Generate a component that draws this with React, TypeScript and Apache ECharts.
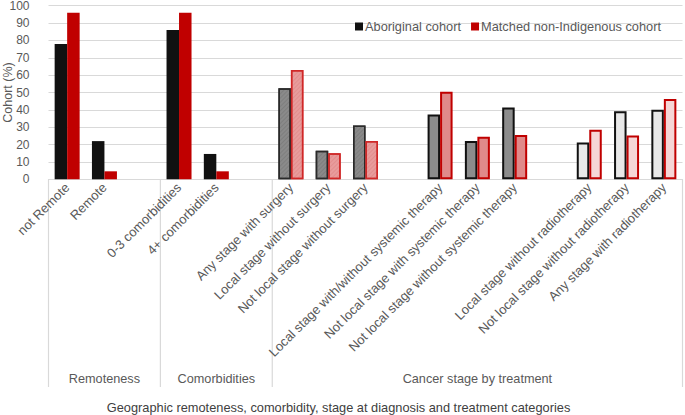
import React, { useEffect, useRef } from "react";
import * as echarts from "echarts";

const categories = [
  "not Remote", "Remote", "",
  "0-3 comorbidities", "4+ comorbidities", "",
  "Any stage with surgery", "Local stage without surgery", "Not local stage without surgery", "",
  "Local stage with/without systemic therapy", "Not local stage with systemic therapy", "Not local stage without systemic therapy", "",
  "Local stage without radiotherapy", "Not local stage without radiotherapy", "Any stage with radiotherapy",
];
const aboriginal = [78, 22, null, 86, 14.6, null, 52.5, 16.5, 31, null, 37.3, 22, 41.3, null, 21.2, 39.2, 40];
const matched = [96, 4.6, null, 96, 4.6, null, 63, 15, 22, null, 50.5, 24.5, 25.5, null, 28.5, 25.2, 46.3];
// style group per category: 0 solid, 1 surgery (hatched), 2 systemic, 3 radiotherapy
const styleGroup = [0, 0, 0, 0, 0, 0, 1, 1, 1, 1, 2, 2, 2, 2, 3, 3, 3];
const sections = [
  { name: "Remoteness", start: 0, end: 2 },
  { name: "Comorbidities", start: 3, end: 5 },
  { name: "Cancer stage by treatment", start: 6, end: 16 },
];
const yTicks = [0, 10, 20, 30, 40, 50, 60, 70, 80, 90, 100];
const seriesNames = ["Aboriginal cohort", "Matched non-Indigenous cohort"];

const FONT = "'Liberation Sans', Arial, sans-serif";
const TXT = "#595959";

const hatch = (c: string) => ({
  symbol: "rect",
  symbolSize: 1,
  color: c,
  dashArrayX: [1, 0],
  dashArrayY: [1, 2],
  rotation: -Math.PI / 4,
});

const abStyles = [
  { color: "#111111" },
  { color: "#8a8a8a", borderColor: "#2a2a2a", borderWidth: 1.5, decal: hatch("rgba(70,70,70,0.18)") },
  { color: "#8c8c8c", borderColor: "#111111", borderWidth: 2 },
  { color: "#e8e8e8", borderColor: "#111111", borderWidth: 2 },
];
const maStyles = [
  { color: "#c00000" },
  { color: "#e89c9c", borderColor: "#d02828", borderWidth: 1.5, decal: hatch("rgba(200,80,80,0.18)") },
  { color: "#e08a8a", borderColor: "#c00000", borderWidth: 2 },
  { color: "#f6d6d6", borderColor: "#c00000", borderWidth: 2 },
];

export default function App() {
  const ref = useRef<HTMLDivElement>(null);
  useEffect(() => {
    document.body.style.margin = "0";
    const chart = echarts.init(ref.current!, null, { renderer: "svg" });
    const mk = (vals: (number | null)[], styles: any[]) =>
      vals.map((v, i) => (v === null ? "-" : { value: v, itemStyle: styles[styleGroup[i]] }));
    chart.setOption({
      animation: false,
      textStyle: { fontFamily: FONT },
      aria: { enabled: true, decal: { show: false } },
      legend: {
        data: seriesNames,
        left: 350,
        top: 15,
        itemWidth: 8,
        itemHeight: 8,
        itemGap: 10,
        icon: "rect",
        textStyle: { fontSize: 12.8, color: TXT, fontFamily: FONT, padding: [0, 0, 0, -3] },
      },
      grid: { left: 48.5, right: 2.5, top: 5.7, bottom: 235.7, containLabel: false, outerBoundsMode: "none" },
      xAxis: {
        type: "category",
        data: categories,
        axisLine: { lineStyle: { color: "#d9d9d9", width: 1 } },
        axisTick: { show: false },
        axisLabel: { interval: 0, rotate: 45, margin: 6, fontSize: 13, color: TXT, fontFamily: FONT, hideOverlap: false },
      },
      yAxis: {
        type: "value",
        min: 0,
        max: 100,
        interval: 10,
        name: "Cohort (%)",
        nameLocation: "middle",
        nameGap: 34,
        nameMoveOverlap: false,
        nameTextStyle: { fontSize: 12.5, color: TXT, fontFamily: FONT },
        axisLine: { show: false },
        axisTick: { show: false },
        splitLine: { lineStyle: { color: "#d9d9d9", width: 1.2 } },
        axisLabel: { margin: 19, fontSize: 12, color: TXT, fontFamily: FONT,
          formatter: (v: number) => (yTicks.includes(v) ? String(v) : "") },
      },
      series: [
        { name: seriesNames[0], type: "bar", barWidth: 12.5, barGap: "0%", itemStyle: { color: "#111111" }, data: mk(aboriginal, abStyles) },
        { name: seriesNames[1], type: "bar", barWidth: 12.5, barGap: "0%", itemStyle: { color: "#c00000" }, data: mk(matched, maStyles) },
      ],
    });
    const c0 = chart.convertToPixel({ xAxisIndex: 0 }, 0) as number;
    const c1 = chart.convertToPixel({ xAxisIndex: 0 }, 1) as number;
    const band = c1 - c0;
    const y0 = chart.convertToPixel({ yAxisIndex: 0 }, 0) as number;
    const graphics: any[] = [];
    const lineAt = (x: number) => ({
      type: "line",
      shape: { x1: x, y1: y0, x2: x, y2: 387 },
      style: { stroke: "#d9d9d9", lineWidth: 1.2 },
    });
    sections.forEach((s, k) => {
      const xs = (chart.convertToPixel({ xAxisIndex: 0 }, s.start) as number) - band / 2;
      const xe = (chart.convertToPixel({ xAxisIndex: 0 }, s.end) as number) + band / 2;
      graphics.push(lineAt(xs));
      if (k === sections.length - 1) graphics.push(lineAt(xe));
      graphics.push({
        type: "text",
        x: (xs + xe) / 2,
        y: 379,
        style: { text: s.name, fill: TXT, font: `12.7px ${FONT}`, textAlign: "center", textVerticalAlign: "middle" },
      });
    });
    graphics.push({
      type: "text",
      x: 685 / 2 - 4,
      y: 407,
      style: {
        text: "Geographic remoteness, comorbidity, stage at diagnosis and treatment categories",
        fill: "#404040",
        font: `12.8px ${FONT}`,
        textAlign: "center",
        textVerticalAlign: "middle",
      },
    });
    chart.setOption({ graphic: graphics });
    return () => chart.dispose();
  }, []);
  return <div ref={ref} style={{ width: 685, height: 415 }} />;
}
